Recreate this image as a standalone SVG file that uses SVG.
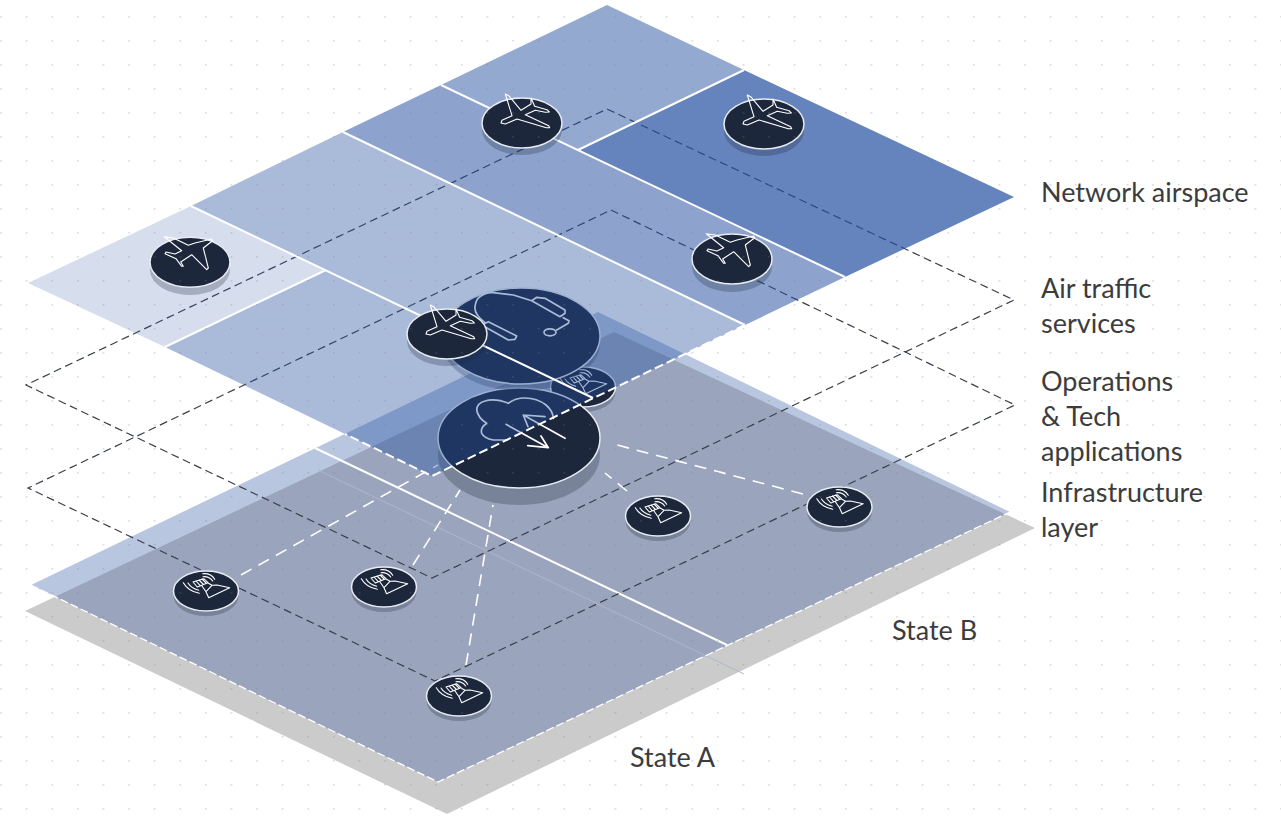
<svg xmlns="http://www.w3.org/2000/svg" width="1281" height="821" viewBox="0 0 1281 821">
<defs>
<style>
.lab{font-family:"Lato","Carlito","Liberation Sans",sans-serif;font-size:27px;fill:#3c3c3c}
.frame{fill:none;stroke:#3a3f4c;stroke-width:1.2;stroke-dasharray:8 4.5}
.wl{fill:none;stroke:#fff;stroke-width:2}
.wd{fill:none;stroke:#fff;stroke-width:1.6;stroke-dasharray:12 8}
.ed{fill:none;stroke:#fff;stroke-width:1.3;stroke-dasharray:8 3}
.ed2{fill:none;stroke:#fff;stroke-width:2;stroke-dasharray:9 4}
.disc{fill:#1c273c;stroke:#e8ebf1;stroke-width:1.5}
.shad{fill:#1c273c;fill-opacity:.27}
.ic{fill:none;stroke:#fff;stroke-width:1.1;stroke-linejoin:round;stroke-linecap:round}
.ic2{fill:none;stroke:#fff;stroke-width:1.7;stroke-linejoin:round;stroke-linecap:round}
.reg{fill:#244fa0}
</style>
<pattern id="dots" width="25.6" height="24" patternUnits="userSpaceOnUse" x="0.2" y="16"><rect width="1.6" height="1.6" fill="#7f7f7f" fill-opacity=".3"/></pattern>
<clipPath id="grayclip"><polygon points="25,611 447,814 1035,528 614,332"/></clipPath>
<path id="plane" d="M-16.7-29-13.3-27.3-1-12.7 9-19 9-25 12.7-16.7 25-13.3 27.3-11 23.3-10.7 13.3-12.7 3.3-8.3 26.7 2.7 27.7 4.7 24.3 4.7-5-4-16.7 1-21 0-20-2.7-10-7.3Z"/>
<path id="plane2" d="M-25.7-25.3-16.7-24-1.7-16.7 5-19 21.7-23 22.7-21.3 13.3-14 18.3 6 16.7 7.7 1.7-7.3-9.3 0-6.7 4.3-8.3 4.3-14-3.3-25-8.3-24-10-15-8-8.3-11.3Z"/>
<g id="ant"><path d="M6-5.7 11-6 23.7-3.3 2.7 6.7 0 .7ZM-13-9-2.3-12.3 2-8.3-8.7-4ZM-10-10-6-5.6M-7-11-3-7M-4-12 0-8M-4-5 0 .7M2-8 6-5.7"/><path d="M-18-8Q-15-3-7.3-.7M-22.7-8.3Q-18 0-6.7 2.3M-3-14.3Q3-15 6.7-10M-3.3-17.3Q5-18 8.7-11.7"/></g>
</defs>
<rect width="1281" height="821" fill="#fff"/>
<polygon points="25,611 447,814 1035,528 614,332" fill="#cbcbcb"/>
<polygon points="31,585 438,782 1010,512 598,312" fill="#b8c6e0"/>
<polygon points="31,585 438,782 1010,512 598,312" fill="#9aa5bd" clip-path="url(#grayclip)"/>
<path d="M318 470 744 674" stroke="#aeb6ca" fill="none"/>
<path class="ed" d="M31 585 438 782 1010 512"/>
<path class="wl" d="M315 448 727 645"/>
<g id="connectors">
<path class="wd" d="M241 575 438 465M413 565 460 490M466 665 493 505M627 491 605 473M803 494 617 445"/>
<polygon class="frame" points="611,210 1015,405 435,681 28,488"/>
<polygon class="frame" points="607,109 1014,300 432,578 26,385"/>
</g>
<g id="n-ant1"><ellipse class="shad" cx="206" cy="596" rx="32.5" ry="20"/><ellipse class="disc" cx="206" cy="591" rx="32.5" ry="20"/><use href="#ant" class="ic" x="206" y="591"/></g>
<g id="n-ant2"><ellipse class="shad" cx="384" cy="592" rx="32.5" ry="20"/><ellipse class="disc" cx="384" cy="587" rx="32.5" ry="20"/><use href="#ant" class="ic" x="384" y="587"/></g>
<g id="n-ant3"><ellipse class="shad" cx="658" cy="521" rx="32.5" ry="20"/><ellipse class="disc" cx="658" cy="516" rx="32.5" ry="20"/><use href="#ant" class="ic" x="658" y="516"/></g>
<g id="n-ant4"><ellipse class="shad" cx="839.5" cy="512" rx="32.5" ry="20"/><ellipse class="disc" cx="839.5" cy="507" rx="32.5" ry="20"/><use href="#ant" class="ic" x="839.5" y="507"/></g>
<g id="n-ant5"><ellipse class="shad" cx="459" cy="701" rx="32.5" ry="20"/><ellipse class="disc" cx="459" cy="696" rx="32.5" ry="20"/><use href="#ant" class="ic" x="459" y="696"/></g>
<g id="n-ant6"><ellipse class="shad" cx="583" cy="392" rx="32.5" ry="20"/><ellipse class="disc" cx="583" cy="387" rx="32.5" ry="20"/><use href="#ant" class="ic" x="583" y="387"/></g>
<g id="n-cloud"><ellipse class="shad" cx="519" cy="455" rx="81" ry="50"/><ellipse class="disc" cx="519" cy="438" rx="81" ry="50"/>
<path class="ic2" d="M506.7 440H493.3Q484 438 481.7 433.3 480 428 486.700 423.3 478 418 476.7 410 477 403 485 401 495 398 508.3 403.3 515 398 525 398 537 398 546 405 553 411 553.3 418.3"/>
<path class="ic2" d="M506 424.3 548.3 447.7 527.7 445.7M548.3 447.7 541 436M565 438.3 523.3 415 545 416.7M523.3 415 528 426.7"/></g>
<g id="n-ats"><ellipse class="shad" cx="521" cy="343" rx="79" ry="48"/><ellipse class="disc" cx="521" cy="336" rx="79" ry="48"/>
<path class="ic2" d="M485 322.7Q474 314 475 306.7 476 299 480 296.7 486 292 493.3 292.7L513.3 295 531.7 300.7M531.7 300.7 536.7 297.3 545 298.3 565 310V313.3L560 316.7ZM563.3 317.7 569 320.7 568.3 323.3 556.7 330M481.7 325 488.3 321.7 516.7 336 515 339.3 508.3 340Z"/>
<ellipse class="ic2" cx="550" cy="332.3" rx="6" ry="3.5"/></g>
<g id="n-air-top">
<polygon class="reg" fill-opacity=".49" points="607,5 744,70 578,150 441,85"/>
<polygon class="reg" fill-opacity=".7" points="744,70 1014,197 845,277 578,150"/>
<polygon class="reg" fill-opacity=".52" points="441,85 578,150 845,277 745,325 343,132"/>
<polygon class="reg" fill-opacity=".39" points="343,132 745,325 593,398 191,206"/>
<polygon class="reg" fill-opacity=".19" points="191,206 326,270 165,347 28,283"/>
<polygon class="reg" fill-opacity=".39" points="326,270 593,398 432,476 165,347"/>
<path class="wl" d="M191 206 593 398M343 132 745 325M441 85 845 277M744 70 578 150M326 270 165 347"/>
<path class="ed2" d="M745 325 432 476 345 434"/>
</g>
<g id="n-p1"><ellipse class="shad" cx="522" cy="130" rx="40" ry="25"/><ellipse class="disc" cx="522" cy="123" rx="40" ry="25"/><use href="#plane" class="ic" x="522" y="123"/></g>
<g id="n-p2"><ellipse class="shad" cx="764" cy="131" rx="40" ry="25"/><ellipse class="disc" cx="764" cy="124" rx="40" ry="25"/><use href="#plane" class="ic" x="764" y="124"/></g>
<g id="n-p3"><ellipse class="shad" cx="190" cy="270" rx="40" ry="25"/><ellipse class="disc" cx="190" cy="262.3" rx="40" ry="25"/><use href="#plane2" class="ic" x="190" y="262"/></g>
<g id="n-p4"><ellipse class="shad" cx="732" cy="267" rx="40" ry="25"/><ellipse class="disc" cx="732" cy="259" rx="40" ry="25"/><use href="#plane2" class="ic" x="732" y="259"/></g>
<g id="n-p5"><ellipse class="shad" cx="447" cy="341" rx="40" ry="25"/><ellipse class="disc" cx="447" cy="334" rx="40" ry="25"/><use href="#plane" class="ic" x="447" y="334"/></g>
<g id="labels">
<text class="lab" x="1041" y="202">Network airspace</text>
<text class="lab" x="1041" y="298">Air traffic</text>
<text class="lab" x="1041" y="333">services</text>
<text class="lab" x="1041" y="391">Operations</text>
<text class="lab" x="1041" y="426">&amp; Tech</text>
<text class="lab" x="1041" y="461">applications</text>
<text class="lab" x="1041" y="502">Infrastructure</text>
<text class="lab" x="1041" y="537">layer</text>
<text class="lab" x="892" y="640">State B</text>
<text class="lab" x="630" y="767">State A</text>
</g>
<rect width="1281" height="821" fill="url(#dots)" pointer-events="none"/>
</svg>
